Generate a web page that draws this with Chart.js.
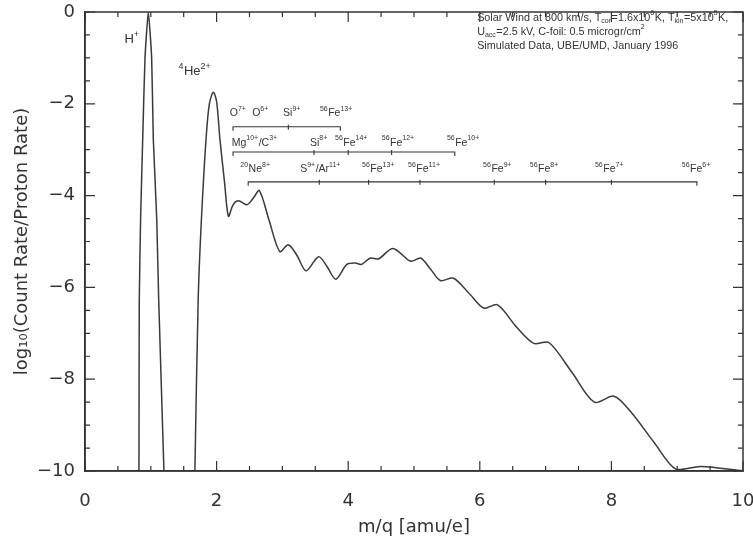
<!DOCTYPE html>
<html>
<head>
<meta charset="utf-8">
<script src="https://cdn.jsdelivr.net/npm/chart.js@4.4.1/dist/chart.umd.min.js"></script>
<style>
  html, body { margin: 0; padding: 0; background: #fff; }
  #wrap { width: 753px; height: 538px; }
</style>
</head>
<body>
<div id="wrap"><canvas id="myChart"></canvas></div>
<script>
'use strict';

// H+ peak, m/q vs log10(count rate / proton rate)
const protonMq  = [0.82, 0.825, 0.845, 0.877, 0.912, 0.962, 1.013, 1.038, 1.09, 1.12, 1.2];
const protonLog = [-10, -6.27, -4.5, -2.76, -1.0, 0, -1.0, -2.76, -4.5, -6.27, -10];

// He2+ peak and the heavy ion part
const ionMq  = [1.67, 1.72, 1.77, 1.84, 1.89, 1.95, 2.0, 2.05, 2.12, 2.18, 2.25, 2.33, 2.46, 2.56, 2.65,
                2.8, 2.96, 3.09, 3.22, 3.36, 3.55, 3.68, 3.81, 3.98, 4.11, 4.2, 4.34, 4.46, 4.68, 4.95,
                5.1, 5.25, 5.4, 5.6, 5.85, 6.06, 6.27, 6.55, 6.82, 7.05, 7.4, 7.74, 8.04, 8.3, 8.65,
                8.98, 9.36, 10.0];
const ionLog = [-10, -6.27, -4.5, -2.76, -2.0, -1.75, -1.95, -2.76, -3.7, -4.45, -4.2, -4.11, -4.2, -4.05, -3.89,
                -4.55, -5.22, -5.07, -5.3, -5.64, -5.33, -5.55, -5.82, -5.5, -5.47, -5.5, -5.36, -5.38, -5.15, -5.43,
                -5.36, -5.6, -5.85, -5.8, -6.15, -6.45, -6.38, -6.85, -7.22, -7.2, -7.85, -8.5, -8.37, -8.72, -9.38,
                -9.96, -9.9, -10.0];

const xTicks = [0, 2, 4, 6, 8, 10];
const yTicks = [0, -2, -4, -6, -8, -10];

// ion groups drawn as brackets: span in m/q and marked m/q values
const groupSpans = [[2.25, 3.88], [2.25, 5.62], [2.48, 9.3]];
const groupMarks = [[3.09], [3.48, 4.0, 4.66], [3.56, 4.31, 5.09, 6.22, 7.0, 8.0]];
const groupIons = [
  ['O^{7+}', 'O^{6+}', 'Si^{9+}', '^{56}Fe^{13+}'],
  ['Mg^{10+}/C^{3+}', 'Si^{8+}', '^{56}Fe^{14+}', '^{56}Fe^{12+}', '^{56}Fe^{10+}'],
  ['^{20}Ne^{8+}', 'S^{9+}/Ar^{11+}', '^{56}Fe^{13+}', '^{56}Fe^{11+}', '^{56}Fe^{9+}', '^{56}Fe^{8+}', '^{56}Fe^{7+}', '^{56}Fe^{6+}']
];
const groupIonAt = [
  [2.20, 2.54, 3.01, 3.57],
  [2.23, 3.42, 3.80, 4.51, 5.50],
  [2.36, 3.27, 4.21, 4.91, 6.05, 6.76, 7.75, 9.07]
];

const headerLines = [
  'Solar Wind at 800 km/s, T_{cor}=1.6x10^{6}K, T_{kin}=5x10^{5}K,',
  'U_{acc}=2.5 kV, C-foil: 0.5 microgr/cm^{2}',
  'Simulated Data, UBE/UMD, January 1996'
];

// layout of the annotations (log units for rows)
const rowTextY = [-2.2, -2.85, -3.42];
const rowLineY = [-2.5, -3.05, -3.7];
const ink = '#333';
const FONT = '"DejaVu Sans", sans-serif';
const NOTE_FONT = '"Liberation Sans", Arial, sans-serif';

// draws text with ^{..} superscripts and _{..} subscripts
function drawRich(ctx, str, x, y, size, family) {
  const re = /([\^_])\{([^}]*)\}|([^\^_]+)/g;
  let m;
  family = family || FONT;
  ctx.textBaseline = 'middle';
  ctx.textAlign = 'left';
  while ((m = re.exec(str)) !== null) {
    if (m[3]) {
      ctx.font = size + 'px ' + family;
      ctx.fillText(m[3], x, y);
      x += ctx.measureText(m[3]).width;
    } else {
      const s = Math.round(size * 0.68);
      ctx.font = s + 'px ' + family;
      const dy = m[1] === '^' ? -size * 0.42 : size * 0.32;
      ctx.fillText(m[2], x, y + dy);
      x += ctx.measureText(m[2]).width + 0.5;
    }
  }
  return x;
}

const decor = {
  id: 'decor',
  afterDatasetsDraw(chart) {
    const ctx = chart.ctx;
    const a = chart.chartArea;
    const x = chart.scales.x, y = chart.scales.y;
    ctx.save();
    ctx.strokeStyle = ink;
    ctx.fillStyle = ink;
    ctx.lineWidth = 1.5;
    ctx.strokeRect(a.left, a.top, a.right - a.left, a.bottom - a.top);

    // inward ticks on all four sides
    ctx.lineWidth = 1.2;
    ctx.beginPath();
    for (let i = 0; i <= 20; i++) {
      const v = i * 0.5;
      const len = i % 4 === 0 ? 10 : 5;
      const px = x.getPixelForValue(v);
      ctx.moveTo(px, a.bottom); ctx.lineTo(px, a.bottom - len);
      ctx.moveTo(px, a.top); ctx.lineTo(px, a.top + len);
      const py = y.getPixelForValue(-v);
      ctx.moveTo(a.left, py); ctx.lineTo(a.left + len, py);
      ctx.moveTo(a.right, py); ctx.lineTo(a.right - len, py);
    }
    ctx.stroke();

    // peak labels
    drawRich(ctx, 'H^{+}', x.getPixelForValue(0.6), y.getPixelForValue(-0.6), 13, NOTE_FONT);
    drawRich(ctx, '^{4}He^{2+}', x.getPixelForValue(1.42), y.getPixelForValue(-1.3), 13, NOTE_FONT);

    // ion group brackets
    ctx.lineWidth = 1.1;
    groupSpans.forEach(function (span, r) {
      const ly = y.getPixelForValue(rowLineY[r]);
      const x0 = x.getPixelForValue(span[0]), x1 = x.getPixelForValue(span[1]);
      ctx.beginPath();
      ctx.moveTo(x0, ly + 4); ctx.lineTo(x0, ly); ctx.lineTo(x1, ly); ctx.lineTo(x1, ly + 4);
      groupMarks[r].forEach(function (v) {
        const px = x.getPixelForValue(v);
        ctx.moveTo(px, ly - 2); ctx.lineTo(px, ly + 3);
      });
      ctx.stroke();
      groupIons[r].forEach(function (label, k) {
        drawRich(ctx, label, x.getPixelForValue(groupIonAt[r][k]), y.getPixelForValue(rowTextY[r]), 10.5, NOTE_FONT);
      });
    });

    // header text
    const hx = x.getPixelForValue(5.96);
    headerLines.forEach(function (line, i) {
      drawRich(ctx, line, hx, a.top + 6 + i * 14, 10.8, NOTE_FONT);
    });
    ctx.restore();
  }
};

function toPoints(xs, ys) {
  return xs.map(function (v, i) { return { x: v, y: ys[i] }; });
}

const lineStyle = {
  showLine: true,
  borderColor: '#3a3a3a',
  borderWidth: 1.5,
  pointRadius: 0,
  tension: 0.3,
  fill: false
};

const config = {
  type: 'scatter',
  data: {
    datasets: [
      Object.assign({ label: 'H+', data: toPoints(protonMq, protonLog) }, lineStyle, { tension: 0.15 }),
      Object.assign({ label: 'ions', data: toPoints(ionMq, ionLog) }, lineStyle)
    ]
  },
  options: {
    responsive: false,
    animation: false,
    layout: { padding: { top: 12, right: 10, left: 0, bottom: 0 } },
    plugins: { legend: { display: false }, tooltip: { enabled: false } },
    scales: {
      x: {
        type: 'linear', min: 0, max: 10,
        afterFit: function (s) { s.height = 67; s.paddingLeft = 0; s.paddingRight = 0; },
        afterBuildTicks: function (s) { s.ticks = xTicks.map(function (v) { return { value: v }; }); },
        grid: { display: true, drawOnChartArea: false, drawTicks: false },
        border: { display: true, color: ink, width: 1.5 },
        ticks: { color: ink, padding: 20, font: { family: FONT, size: 18 } },
        title: { display: true, text: 'm/q [amu/e]', color: ink, padding: { top: 0, bottom: 0 },
                 font: { family: FONT, size: 18 } }
      },
      y: {
        type: 'linear', min: -10, max: 0,
        afterFit: function (s) { s.width = 85; s.paddingTop = 0; s.paddingBottom = 0; },
        afterBuildTicks: function (s) { s.ticks = yTicks.map(function (v) { return { value: v }; }); },
        grid: { display: true, drawOnChartArea: false, drawTicks: false },
        border: { display: true, color: ink, width: 1.5 },
        ticks: { color: ink, padding: 10, font: { family: FONT, size: 18 },
                 callback: function (v) { return v < 0 ? '\u2212' + Math.abs(v) : String(v); } },
        title: { display: true, text: 'log\u2081\u2080(Count Rate/Proton Rate)', color: ink,
                 padding: { top: 12, bottom: 0 }, font: { family: FONT, size: 18 } }
      }
    }
  },
  plugins: [decor]
};

const canvas = document.getElementById('myChart');
canvas.width = 753;
canvas.height = 538;
let myChart = new Chart(canvas, config);
</script>
</body>
</html>
